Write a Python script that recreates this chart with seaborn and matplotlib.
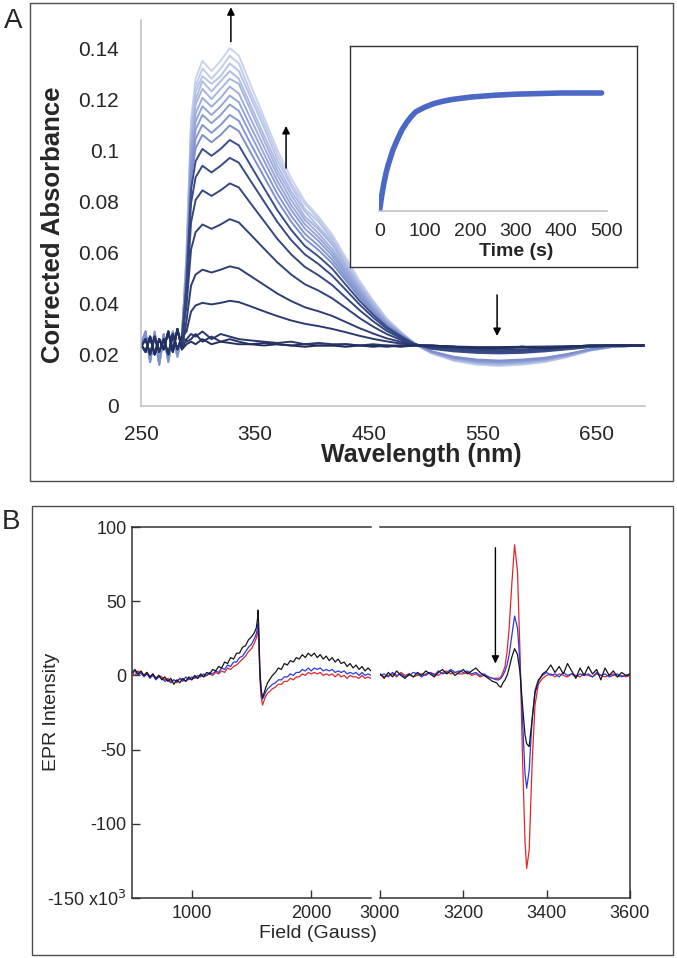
import pandas as pd
import seaborn as sns
import matplotlib.pyplot as plt
from matplotlib.patches import Rectangle

sns.set_theme(style="white")
plt.rcParams["font.family"] = ["Liberation Sans", "DejaVu Sans"]
plt.rcParams["axes.unicode_minus"] = False

W, H = 677, 958

# ---- panel A data: absorbance scans (early -> late) ----
wavelength = [250, 254, 258, 262, 266, 270, 274, 278, 282, 286,
              290, 294, 298, 304, 312, 320, 328, 336, 346, 358, 370,
              382, 394, 406, 418, 430, 442, 454, 466, 478, 490,
              505, 525, 545, 565, 585, 605, 625, 645, 665, 692]

absorbance_scans = [
    [0.024, 0.021, 0.027, 0.020, 0.026, 0.022, 0.029, 0.021, 0.030, 0.022,
     0.024, 0.025, 0.024, 0.026, 0.024, 0.025, 0.0245, 0.024, 0.024, 0.0235, 0.024,
     0.0235, 0.023, 0.0235, 0.0235, 0.023, 0.0235, 0.023, 0.0235, 0.023, 0.0235,
     0.0235, 0.023, 0.0225, 0.0225, 0.023, 0.0225, 0.023, 0.0235, 0.0235, 0.0235],
    [0.023, 0.026, 0.020, 0.027, 0.021, 0.026, 0.020, 0.028, 0.022, 0.027,
     0.025, 0.026, 0.028, 0.025, 0.027, 0.025, 0.026, 0.025, 0.024, 0.0245, 0.024,
     0.0235, 0.024, 0.0235, 0.0235, 0.024, 0.0235, 0.0235, 0.023, 0.0235, 0.0235,
     0.0235, 0.023, 0.0225, 0.0225, 0.023, 0.0225, 0.023, 0.0235, 0.0235, 0.0235],
    [0.024, 0.021, 0.027, 0.020, 0.026, 0.022, 0.029, 0.021, 0.030, 0.022,
     0.026, 0.028, 0.027, 0.029, 0.026, 0.028, 0.027, 0.026, 0.0255, 0.025, 0.0245,
     0.025, 0.024, 0.0245, 0.024, 0.024, 0.0235, 0.024, 0.0235, 0.0235, 0.0235,
     0.0235, 0.023, 0.0225, 0.0225, 0.023, 0.0225, 0.023, 0.0235, 0.0235, 0.0235],
    [0.023, 0.026, 0.020, 0.027, 0.021, 0.026, 0.020, 0.028, 0.022, 0.027,
     0.0290, 0.0368, 0.0392, 0.0402, 0.0396, 0.0402, 0.0410, 0.0405, 0.0389, 0.0369, 0.0350,
     0.0333, 0.0320, 0.0311, 0.0300, 0.0287, 0.0273, 0.0261, 0.0251, 0.0243, 0.0237,
     0.0233, 0.0231, 0.0229, 0.0229, 0.0230, 0.0231, 0.0232, 0.0234, 0.0235, 0.0235],
    [0.024, 0.021, 0.027, 0.020, 0.026, 0.022, 0.029, 0.021, 0.030, 0.022,
     0.0332, 0.0470, 0.0513, 0.0532, 0.0521, 0.0532, 0.0545, 0.0537, 0.0508, 0.0473, 0.0438,
     0.0409, 0.0385, 0.0369, 0.0351, 0.0327, 0.0303, 0.0282, 0.0263, 0.0250, 0.0238,
     0.0231, 0.0228, 0.0226, 0.0226, 0.0227, 0.0229, 0.0231, 0.0233, 0.0235, 0.0235],
    [0.023, 0.026, 0.020, 0.027, 0.021, 0.026, 0.020, 0.028, 0.022, 0.027,
     0.0390, 0.0611, 0.0679, 0.0709, 0.0692, 0.0709, 0.0730, 0.0717, 0.0671, 0.0615, 0.0560,
     0.0513, 0.0475, 0.0450, 0.0420, 0.0382, 0.0343, 0.0309, 0.0280, 0.0258, 0.0239,
     0.0228, 0.0223, 0.0220, 0.0219, 0.0220, 0.0223, 0.0227, 0.0232, 0.0235, 0.0235],
    [0.024, 0.021, 0.027, 0.020, 0.026, 0.022, 0.029, 0.021, 0.030, 0.022,
     0.0434, 0.0717, 0.0805, 0.0843, 0.0821, 0.0843, 0.0870, 0.0854, 0.0794, 0.0723, 0.0652,
     0.0592, 0.0543, 0.0510, 0.0472, 0.0423, 0.0374, 0.0330, 0.0292, 0.0265, 0.0240,
     0.0226, 0.0219, 0.0215, 0.0213, 0.0215, 0.0219, 0.0225, 0.0231, 0.0234, 0.0235],
    [0.023, 0.026, 0.020, 0.027, 0.021, 0.026, 0.020, 0.028, 0.022, 0.027,
     0.0465, 0.0793, 0.0894, 0.0939, 0.0913, 0.0939, 0.0970, 0.0951, 0.0882, 0.0800, 0.0718,
     0.0648, 0.0592, 0.0554, 0.0509, 0.0453, 0.0396, 0.0345, 0.0301, 0.0270, 0.0241,
     0.0224, 0.0215, 0.0210, 0.0208, 0.0210, 0.0215, 0.0222, 0.0230, 0.0234, 0.0235],
    [0.024, 0.021, 0.027, 0.020, 0.026, 0.022, 0.029, 0.021, 0.030, 0.022,
     0.0487, 0.0847, 0.0957, 0.1005, 0.0978, 0.1005, 0.1040, 0.1019, 0.0943, 0.0853, 0.0764,
     0.0688, 0.0625, 0.0584, 0.0536, 0.0473, 0.0411, 0.0356, 0.0308, 0.0273, 0.0242,
     0.0222, 0.0212, 0.0206, 0.0204, 0.0206, 0.0212, 0.0220, 0.0229, 0.0234, 0.0235],
    [0.024, 0.029, 0.017, 0.028, 0.016, 0.027, 0.018, 0.029, 0.020, 0.027,
     0.0505, 0.0890, 0.1008, 0.1060, 0.1031, 0.1060, 0.1097, 0.1075, 0.0994, 0.0897, 0.0801,
     0.0720, 0.0653, 0.0609, 0.0557, 0.0490, 0.0424, 0.0365, 0.0313, 0.0276, 0.0242,
     0.0213, 0.0191, 0.0180, 0.0176, 0.0180, 0.0187, 0.0202, 0.0220, 0.0231, 0.0235],
    [0.025, 0.027, 0.019, 0.027, 0.018, 0.028, 0.017, 0.027, 0.021, 0.026,
     0.0518, 0.0921, 0.1045, 0.1099, 0.1068, 0.1099, 0.1138, 0.1115, 0.1029, 0.0929, 0.0828,
     0.0743, 0.0673, 0.0626, 0.0572, 0.0502, 0.0433, 0.0371, 0.0316, 0.0278, 0.0243,
     0.0212, 0.0188, 0.0177, 0.0173, 0.0177, 0.0185, 0.0200, 0.0220, 0.0231, 0.0235],
    [0.023, 0.028, 0.018, 0.029, 0.017, 0.026, 0.019, 0.028, 0.019, 0.028,
     0.0531, 0.0952, 0.1081, 0.1138, 0.1106, 0.1138, 0.1179, 0.1154, 0.1065, 0.0960, 0.0855,
     0.0766, 0.0693, 0.0644, 0.0587, 0.0514, 0.0442, 0.0377, 0.0320, 0.0280, 0.0243,
     0.0211, 0.0186, 0.0174, 0.0170, 0.0174, 0.0182, 0.0199, 0.0219, 0.0231, 0.0235],
    [0.024, 0.029, 0.017, 0.028, 0.016, 0.027, 0.018, 0.029, 0.020, 0.027,
     0.0542, 0.0978, 0.1113, 0.1172, 0.1138, 0.1172, 0.1214, 0.1188, 0.1096, 0.0987, 0.0878,
     0.0785, 0.0710, 0.0659, 0.0600, 0.0525, 0.0449, 0.0382, 0.0323, 0.0281, 0.0243,
     0.0210, 0.0185, 0.0172, 0.0168, 0.0172, 0.0180, 0.0197, 0.0218, 0.0231, 0.0235],
    [0.025, 0.027, 0.019, 0.027, 0.018, 0.028, 0.017, 0.027, 0.021, 0.026,
     0.055, 0.1005, 0.1144, 0.1205, 0.117, 0.1205, 0.1249, 0.1222, 0.1127, 0.1014, 0.0901,
     0.0805, 0.0727, 0.0674, 0.0613, 0.0535, 0.0457, 0.0387, 0.0326, 0.0283, 0.0244,
     0.0209, 0.0183, 0.0170, 0.0165, 0.0170, 0.0178, 0.0196, 0.0218, 0.0231, 0.0235],
    [0.023, 0.028, 0.018, 0.029, 0.017, 0.026, 0.019, 0.028, 0.019, 0.028,
     0.056, 0.103, 0.118, 0.124, 0.120, 0.124, 0.128, 0.126, 0.116, 0.104, 0.092,
     0.0825, 0.074, 0.069, 0.063, 0.0546, 0.0465, 0.0393, 0.033, 0.0285, 0.0244,
     0.0208, 0.0181, 0.0168, 0.0163, 0.0168, 0.0177, 0.0195, 0.0217, 0.0231, 0.0235],
    [0.024, 0.029, 0.017, 0.028, 0.016, 0.027, 0.018, 0.029, 0.020, 0.027,
     0.057, 0.105, 0.120, 0.127, 0.123, 0.127, 0.131, 0.128, 0.118, 0.106, 0.094,
     0.084, 0.076, 0.070, 0.064, 0.055, 0.047, 0.040, 0.033, 0.0286, 0.0244,
     0.0207, 0.0180, 0.0166, 0.0161, 0.0166, 0.0175, 0.0193, 0.0217, 0.0230, 0.0235],
    [0.025, 0.027, 0.019, 0.027, 0.018, 0.028, 0.017, 0.027, 0.021, 0.026,
     0.058, 0.108, 0.123, 0.129, 0.126, 0.129, 0.134, 0.131, 0.121, 0.109, 0.096,
     0.086, 0.077, 0.072, 0.065, 0.056, 0.048, 0.040, 0.0335, 0.0287, 0.0245,
     0.0207, 0.0178, 0.0164, 0.0159, 0.0164, 0.0173, 0.0192, 0.0216, 0.023, 0.0235],
    [0.023, 0.028, 0.018, 0.029, 0.017, 0.026, 0.019, 0.028, 0.019, 0.028,
     0.059, 0.110, 0.125, 0.132, 0.128, 0.132, 0.137, 0.134, 0.123, 0.111, 0.098,
     0.087, 0.079, 0.073, 0.066, 0.057, 0.048, 0.041, 0.034, 0.029, 0.024,
     0.0206, 0.0177, 0.0162, 0.0157, 0.0162, 0.0172, 0.0191, 0.0216, 0.023, 0.0235],
    [0.024, 0.029, 0.017, 0.028, 0.016, 0.027, 0.018, 0.029, 0.020, 0.027,
     0.060, 0.112, 0.128, 0.135, 0.131, 0.135, 0.140, 0.137, 0.126, 0.113, 0.100,
     0.089, 0.080, 0.074, 0.067, 0.058, 0.049, 0.041, 0.034, 0.029, 0.0245,
     0.0205, 0.0175, 0.016, 0.0155, 0.016, 0.017, 0.019, 0.0215, 0.023, 0.0235],
]
scan_names = [f"scan{i + 1:02d}" for i in range(len(absorbance_scans))]

y_ticks_a = [0, 0.02, 0.04, 0.06, 0.08, 0.10, 0.12, 0.14]
y_ticklabels_a = ["0", "0.02", "0.04", "0.06", "0.08", "0.1", "0.12", "0.14"]
x_ticks_a = [250, 350, 450, 550, 650]

# inset kinetics
time_s = [0, 2, 5, 10, 15, 20, 25, 30, 40, 50, 60, 70, 80, 90, 100, 120,
          140, 160, 180, 200, 250, 300, 350, 400, 450, 490]
inset_signal = [0.0, 0.05, 0.13, 0.24, 0.33, 0.40, 0.46, 0.52, 0.61, 0.69, 0.75,
                0.80, 0.84, 0.86, 0.88, 0.91, 0.93, 0.945, 0.955, 0.965, 0.98,
                0.99, 0.995, 1.0, 1.0, 1.0]

# ---- panel B data: EPR spectra (x10^3) ----
field_low = ([500 + 25 * i for i in range(42)]
             + [1540, 1550, 1556, 1562, 1570, 1580, 1592, 1605, 1620, 1635]
             + [1650 + 25 * i for i in range(35)])
black_low = [2, 4, 1, 3, 0, 2, -1, 1, -2, 0,
             -3, -1, -4, -2, -6, -3, -5, -2, -4, -1,
             -3, 0, -2, 1, -1, 2, 1, 4, 3, 6,
             5, 9, 8, 12, 11, 15, 15, 19, 20, 24,
             26, 29,
             32, 38, 44, 28, 4, -9, -15, -12, -8, -5,
             -3, 0, 2, 5, 4, 8, 7, 10, 9, 12,
             11, 14, 12, 15, 13, 15, 12, 14, 11, 13,
             10, 12, 9, 11, 8, 9, 6, 8, 5, 7,
             4, 6, 3, 5, 3]
blue_low = [1, 3, 0, 2, -1, 1, -2, 0, -3, -1,
            -2, -4, -3, -5, -3, -4, -2, -4, -1, -3,
            -1, -2, 0, -1, 1, 0, 2, 1, 3, 2,
            5, 4, 7, 6, 9, 9, 12, 13, 16, 19,
            21, 25,
            28, 32, 35, 25, 2, -10, -16, -14, -11, -9,
            -8, -6, -5, -3, -3, -1, -1, 1, 0, 2,
            2, 4, 3, 5, 3, 5, 4, 5, 3, 4,
            3, 4, 2, 3, 2, 3, 1, 2, 1, 2,
            0, 2, 0, 1, 0]
red_low = [2, 0, 3, 1, 0, 2, -1, 1, -2, 0,
           -1, -3, -2, -4, -3, -5, -2, -3, -4, -2,
           -3, -1, -2, 0, -1, 0, 1, 0, 2, 1,
           3, 2, 5, 4, 6, 7, 9, 11, 13, 16,
           18, 22,
           25, 28, 30, 20, -2, -14, -20, -17, -14, -12,
           -11, -9, -8, -6, -6, -4, -4, -2, -3, -1,
           -1, 1, 0, 2, 1, 2, 1, 2, 0, 1,
           0, 1, -1, 1, -1, 0, -2, 0, -1, -1,
           -2, 0, -2, -1, -2]

field_high = ([3000 + 10 * i for i in range(29)]
              + [3285, 3290, 3295, 3300, 3305, 3310, 3316, 3323, 3330,
                 3336, 3342, 3348, 3352, 3358, 3365, 3372, 3380, 3390]
              + [3400 + 10 * i for i in range(21)])
black_high = [1, -2, 2, -1, 3, 0, -2, 1, -1, 2,
              0, 3, 1, -1, 2, 4, 1, 3, 0, 2,
              4, 1, 3, 5, 2, 0, -2, -4, -5,
              -7, -8, -5, -3, 0, 5, 12, 18, 14, 2, -20, -40, -46, -48, -30, -12, -4, 1,
              3, 7, 2, 6, 1, 8, 3, -2, 5, 0,
              6, 1, 4, -3, 5, 0, 3, -1, 2, 0,
              1]
blue_high = [0, 1, -1, 2, 0, 1, -1, 0, 2, 1,
             -1, 1, 2, 0, 3, 1, 2, 4, 2, 3,
             2, 3, 1, 2, 0, 1, -1, -2, -3,
             -3, -2, 0, 3, 7, 14, 26, 40, 32, 8, -30, -66, -76, -64, -30, -10, -3, 0,
             2, 0, 1, -1, 2, 0, 1, -1, 1, 0,
             1, -1, 2, 0, 1, -1, 0, 1, -1, 0,
             0]
red_high = [1, -1, 0, 1, -1, 2, 0, 1, -1, 0,
            1, 0, 2, 1, 0, 2, 3, 1, 2, 1,
            1, 2, 0, 1, -1, 0, -1, -2, -2,
            -2, -1, 2, 6, 16, 32, 60, 88, 70, 15, -55, -112, -130, -118, -60, -20, -6, -2,
            0, 1, -1, 1, 0, -1, 1, 0, -1, 1,
            0, -1, 1, 0, -1, 0, 1, -1, 0, -1,
            0]

epr_colors = {"red": "#e0262a", "blue": "#2a3be6", "black": "#161616"}


def rect(x0, y0, x1, y1):
    # pixel box, origin top-left -> figure fraction [l, b, w, h]
    return [x0 / W, 1 - y1 / H, (x1 - x0) / W, (y1 - y0) / H]


def ftext(x, y, s, **kw):
    fig.text(x / W, 1 - y / H, s, ha="center", va="center", **kw)


fig = plt.figure(figsize=(W / 100, H / 100), dpi=100)

for x0, y0, x1, y1 in [(30, 3, 673, 481), (32, 506, 673, 955)]:
    fig.add_artist(Rectangle((x0 / W, 1 - y1 / H), (x1 - x0) / W, (y1 - y0) / H,
                             transform=fig.transFigure, fill=False,
                             ec="#4d4d4d", lw=1.0))

ftext(13, 21, "A", fontsize=20)
ftext(11, 522, "B", fontsize=20)

# ---------------- panel A ----------------
ax = fig.add_axes(rect(141, 20, 645, 405.5))
rows = []
for name, vals in zip(scan_names, absorbance_scans):
    for w, v in zip(wavelength, vals):
        rows.append((name, w, v))
spec = pd.DataFrame(rows, columns=["scan", "wavelength", "absorbance"])
cols = (sns.blend_palette(["#22305f", "#3b4e8b"], 9)
        + sns.blend_palette(["#7d8fcc", "#c9d3ef"], 10))
pal = dict(zip(scan_names, cols))
sns.lineplot(data=spec, x="wavelength", y="absorbance", hue="scan",
             hue_order=scan_names[::-1], palette=pal, estimator=None,
             sort=False, legend=False, linewidth=1.4, ax=ax)
ax.set_xlim(250, 693)
ax.set_ylim(0, 0.151)
ax.set_xticks(x_ticks_a)
ax.set_yticks(y_ticks_a)
ax.set_yticklabels(y_ticklabels_a)
ax.tick_params(length=0, labelsize=15)
ax.tick_params(axis="y", pad=16)
ax.tick_params(axis="x", pad=14)
ax.set_xlabel("")
ax.set_ylabel("")
for s in ["top", "right"]:
    ax.spines[s].set_visible(False)
for s in ["left", "bottom"]:
    ax.spines[s].set_color("#bdbdbd")
    ax.spines[s].set_linewidth(1.1)

arrow = dict(arrowstyle="-|>", color="black", lw=1.1, mutation_scale=11,
             shrinkA=0, shrinkB=0)
ax.annotate("", xy=(329, 0.156), xytext=(329, 0.1425), arrowprops=arrow,
            annotation_clip=False)
ax.annotate("", xy=(377.5, 0.1095), xytext=(377.5, 0.093), arrowprops=arrow)
ax.annotate("", xy=(563, 0.0272), xytext=(563, 0.0433), arrowprops=arrow)

ftext(53, 225, "Corrected Absorbance", fontsize=18.5, fontweight="bold",
      rotation=90)
ftext(421, 455, "Wavelength (nm)", fontsize=18, fontweight="bold")

# inset
frame = fig.add_axes(rect(350, 46, 637, 267), zorder=3)
frame.set_facecolor("white")
frame.set_xticks([])
frame.set_yticks([])
for s in frame.spines.values():
    s.set_color("#333333")
    s.set_linewidth(1.0)

ins = fig.add_axes(rect(379, 69.4, 607, 211), zorder=4)
ins.patch.set_alpha(0)
sns.lineplot(x=time_s, y=inset_signal, color="#4a68c4", linewidth=4,
             ax=ins)
ins.set_xlim(0, 500)
ins.set_ylim(0, 1.2)
ins.set_xticks([0, 100, 200, 300, 400, 500])
ins.set_yticks([])
ins.tick_params(length=0, labelsize=14, pad=9)
for s in ["top", "right", "left"]:
    ins.spines[s].set_visible(False)
ins.spines["bottom"].set_color("#bdbdbd")
ins.spines["bottom"].set_linewidth(1.1)
ins.set_xlim(-1, 502)
ftext(516, 251, "Time (s)", fontsize=14, fontweight="bold", zorder=5)

# ---------------- panel B ----------------
ax_l = fig.add_axes(rect(132, 527, 371, 898))
ax_r = fig.add_axes(rect(380, 527, 630, 898))

low = pd.DataFrame({
    "field": field_low * 3,
    "intensity": red_low + blue_low + black_low,
    "sample": ["red"] * len(field_low) + ["blue"] * len(field_low)
    + ["black"] * len(field_low)})
high = pd.DataFrame({
    "field": field_high * 3,
    "intensity": red_high + blue_high + black_high,
    "sample": ["red"] * len(field_high) + ["blue"] * len(field_high)
    + ["black"] * len(field_high)})

for a, d in [(ax_l, low), (ax_r, high)]:
    sns.lineplot(data=d, x="field", y="intensity", hue="sample",
                 hue_order=["red", "blue", "black"], palette=epr_colors,
                 estimator=None, sort=False, legend=False, linewidth=0.9,
                 ax=a)
    a.set_ylim(-150, 100)
    a.set_xlabel("")
    a.set_ylabel("")
    a.tick_params(direction="in", length=6, width=1, color="#333333",
                  labelsize=13, bottom=True, pad=5)
    for s in a.spines.values():
        s.set_color("#333333")
        s.set_linewidth(1.1)

ax_l.set_xlim(500, 2500)
ax_l.set_xticks([1000, 2000])
ax_l.set_yticks([-150, -100, -50, 0, 50, 100])
ax_l.set_yticklabels(["-150 x10$^3$", "-100", "-50", "0", "50", "100"])
ax_l.tick_params(axis="y", left=True, pad=4)
ax_l.spines["right"].set_visible(False)

ax_r.set_xlim(3000, 3600)
ax_r.set_xticks([3000, 3200, 3400, 3600])
ax_r.set_yticks([])
ax_r.spines["left"].set_visible(False)
ax_r.annotate("", xy=(3277, 8), xytext=(3277, 86),
              arrowprops=dict(arrowstyle="-|>", color="black", lw=1.0,
                              mutation_scale=11, shrinkA=0, shrinkB=0))

ftext(52, 712, "EPR Intensity", fontsize=14, rotation=90)
ftext(318, 933, "Field (Gauss)", fontsize=14)

fig.savefig("out.png", dpi=100)
